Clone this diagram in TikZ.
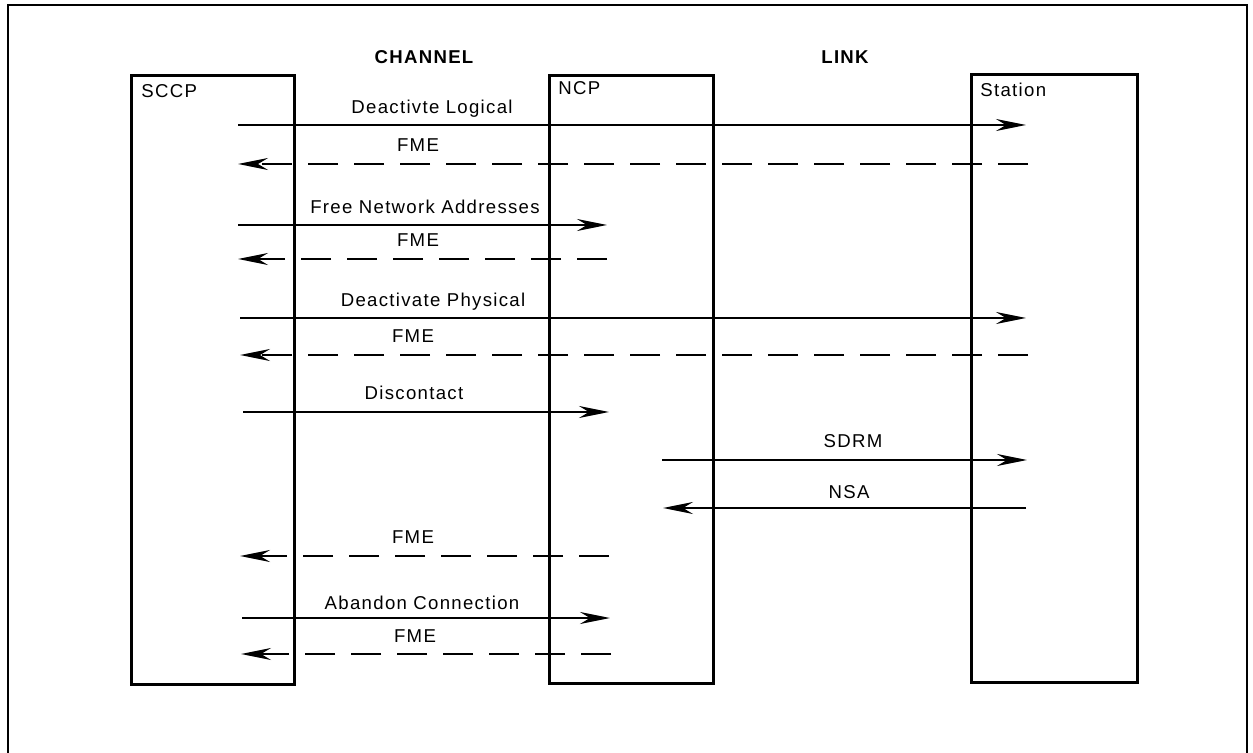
\documentclass[tikz,border=0pt]{standalone}
\usepackage{fontspec}
\setmainfont{Liberation Sans}[LetterSpace=7]
\usetikzlibrary{arrows.meta}
\begin{document}
\begin{tikzpicture}[x=0.5pt,y=-0.5pt,
  every node/.style={font=\fontsize{9.3}{11}\selectfont, inner sep=0pt},
  lane/.style={draw, line width=1.4pt, rectangle, anchor=north west, minimum height=304.5pt},
  lanetitle/.style={anchor=base west},
  head/.style={anchor=base, font=\fontsize{9.3}{11}\selectfont\bfseries},
  msglabel/.style={anchor=base},
  msg/.style={line width=1.1pt, -{Stealth[length=15pt,width=6pt,inset=5pt]}},
  reply/.style={msg, dash pattern=on 15pt off 8pt}]
\useasboundingbox (0,0) rectangle (1253,753);

% outer frame (open at the bottom edge)
\draw[line width=1.3pt] (8,753) -- (8,5) -- (1247,5) -- (1247,753);

% column headings
\node[head] (channel) at (424,64) {CHANNEL};
\node[head] (link) at (845,64) {LINK};

% the three participants
\node[lane, minimum width=81.5pt] (sccp) at (130,74) {};
\node[lane, minimum width=82pt, minimum height=304pt] (ncp) at (548,74) {};
\node[lane, minimum width=83pt, minimum height=304pt] (station) at (970,73) {};
\node[lanetitle] (sccpname) at (141,98) {SCCP};
\node[lanetitle] (ncpname) at (558,95) {NCP};
\node[lanetitle] (stationname) at (980,97) {Station};

% message end points
\coordinate (m1a) at (238,125);  \coordinate (m1b) at (1026,125);
\coordinate (m2a) at (1028,164); \coordinate (m2b) at (238,164);
\coordinate (m3a) at (238,225);  \coordinate (m3b) at (607,225);
\coordinate (m4a) at (607,259);  \coordinate (m4b) at (238,259);
\coordinate (m5a) at (240,318);  \coordinate (m5b) at (1026,318);
\coordinate (m6a) at (1028,355); \coordinate (m6b) at (240,355);
\coordinate (m7a) at (243,412);  \coordinate (m7b) at (609,412);
\coordinate (m8a) at (662,460);  \coordinate (m8b) at (1027,460);
\coordinate (m9a) at (1026,508); \coordinate (m9b) at (663,508);
\coordinate (m10a) at (609,556); \coordinate (m10b) at (240,556);
\coordinate (m11a) at (242,618); \coordinate (m11b) at (610,618);
\coordinate (m12a) at (611,654); \coordinate (m12b) at (241,654);

% messages
\draw[msg]   (m1a) -- (m1b);
\draw[reply] (m2a) -- (m2b);
\draw[msg]   (m3a) -- (m3b);
\draw[reply] (m4a) -- (m4b);
\draw[msg]   (m5a) -- (m5b);
\draw[reply] (m6a) -- (m6b);
\draw[msg]   (m7a) -- (m7b);
\draw[msg]   (m8a) -- (m8b);
\draw[msg]   (m9a) -- (m9b);
\draw[reply] (m10a) -- (m10b);
\draw[msg]   (m11a) -- (m11b);
\draw[reply] (m12a) -- (m12b);

% message labels
\node[msglabel] (l1) at (432,114) {Deactivte Logical};
\node[msglabel] (l2) at (418,152) {FME};
\node[msglabel] (l3) at (425,214) {Free Network Addresses};
\node[msglabel] (l4) at (418,247) {FME};
\node[msglabel] (l5) at (433,307) {Deactivate Physical};
\node[msglabel] (l6) at (413,343) {FME};
\node[msglabel] (l7) at (414,400) {Discontact};
\node[msglabel] (l8) at (853,448) {SDRM};
\node[msglabel] (l9) at (849,499) {NSA};
\node[msglabel] (l10) at (413,544) {FME};
\node[msglabel] (l11) at (422,609) {Abandon Connection};
\node[msglabel] (l12) at (415,642) {FME};
\end{tikzpicture}
\end{document}
